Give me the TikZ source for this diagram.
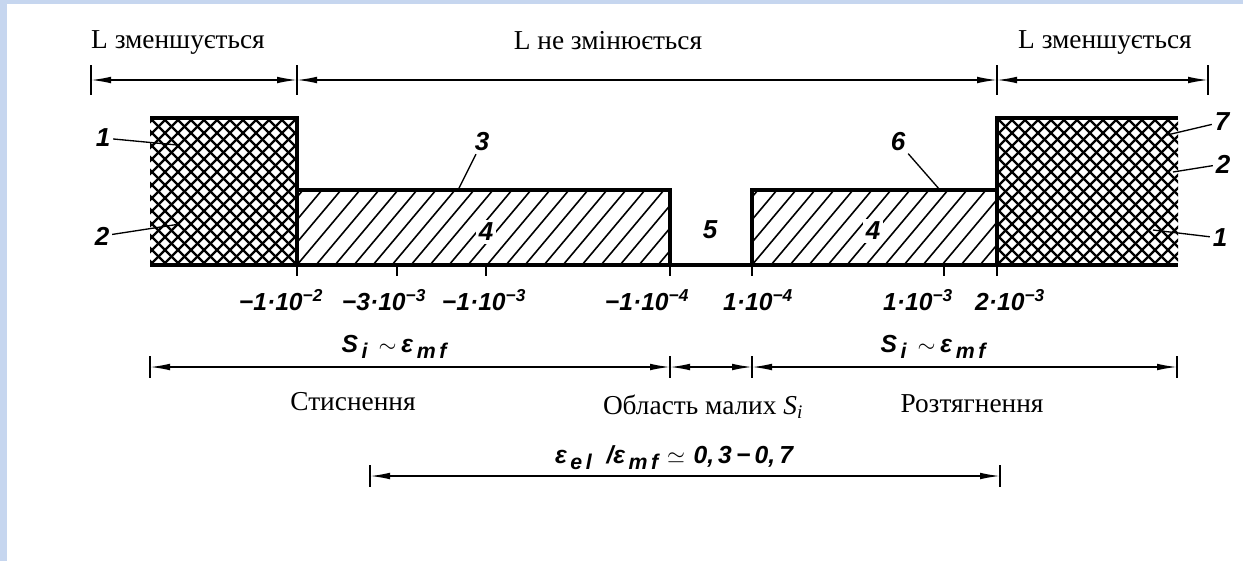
\documentclass[tikz,border=0pt]{standalone}
\usepackage{fontspec}
\setmainfont{Liberation Serif}
\newfontfamily\draftfont{Liberation Sans}
\usetikzlibrary{arrows.meta}
\definecolor{framebg}{RGB}{198,214,239}
\newcommand{\dsub}[1]{\raisebox{-0.5ex}{\fontsize{16}{16}\selectfont #1}}

\begin{document}
\begin{tikzpicture}[x=0.75pt,y=-0.75pt,
    outline/.style={line width=2.3pt},
    cross/.style={line width=1.7pt},
    hatch/.style={line width=1.2pt},
    dim/.style={line width=1.1pt,{Latex[length=15pt,width=5pt]}-{Latex[length=15pt,width=5pt]}},
    bar/.style={line width=1.1pt},
    leader/.style={line width=1pt},
    caption/.style={font=\fontsize{20.5}{22}\selectfont,inner sep=0pt,anchor=base},
    draft/.style={font=\draftfont\bfseries\itshape\fontsize{18.5}{20}\selectfont,inner sep=0pt,anchor=base},
    partno/.style={font=\draftfont\bfseries\itshape\fontsize{19.5}{20}\selectfont,inner sep=2pt}]
    \fill[white] (0,0) rectangle (1243,561);
    \fill[framebg] (0,0) rectangle (7,561);
    \fill[framebg] (7,0) rectangle (1243,4);
    \useasboundingbox (0,0) rectangle (1243,561);

    \begin{scope}
        \clip (150,118) rectangle (297,265);
        \foreach \t in {-169,-156,...,169} {
            \draw[cross] (150+\t,118) -- ++(147,147);
            \draw[cross] (150+\t,265) -- ++(147,-147);
        }
    \end{scope}
    \begin{scope}
        \clip (997,118) rectangle (1178,265);
        \foreach \t in {-169,-156,...,195} {
            \draw[cross] (997+\t,118) -- ++(147,147);
            \draw[cross] (997+\t,265) -- ++(147,-147);
        }
    \end{scope}
    \begin{scope}
        \clip (297,190) rectangle (670,265);
        \foreach \t in {-76,-57,...,380} \draw[hatch] (297+\t,265) -- ++(63,-75);
    \end{scope}
    \begin{scope}
        \clip (752,190) rectangle (997,265);
        \foreach \t in {-76,-57,...,250} \draw[hatch] (752+\t,265) -- ++(63,-75);
    \end{scope}

    \draw[outline] (150,118) -- (297,118) -- (297,265);
    \draw[outline] (297,190) -- (670,190) -- (670,265);
    \draw[outline] (752,265) -- (752,190) -- (997,190);
    \draw[outline] (997,265) -- (997,118) -- (1178,118);
    \draw[outline] (150,265) -- (1178,265);
    \foreach \x in {297,397,486,670,752,944,997} \draw[bar] (\x,265) -- (\x,276);

    \coordinate (a1) at (91,80);
    \coordinate (a2) at (297,80);
    \coordinate (a3) at (997,80);
    \coordinate (a4) at (1208,80);
    \coordinate (b1) at (150,367);
    \coordinate (b2) at (670,367);
    \coordinate (b3) at (752,367);
    \coordinate (b4) at (1177,367);
    \coordinate (c1) at (370,476);
    \coordinate (c2) at (1000,476);
    \foreach \p in {a1,a2,a3,a4} \draw[bar] (\p) ++(0,-15) -- ++(0,30);
    \foreach \p in {b1,b2,b3,b4} \draw[bar] (\p) ++(0,-11) -- ++(0,22);
    \foreach \p in {c1,c2} \draw[bar] (\p) ++(0,-11) -- ++(0,22);
    \draw[dim] (a1) -- (a2);
    \draw[dim] (a2) -- (a3);
    \draw[dim] (a3) -- (a4);
    \draw[dim] (b1) -- (b2);
    \draw[dim] (b2) -- (b3);
    \draw[dim] (b3) -- (b4);
    \draw[dim] (c1) -- (c2);

    \node[caption] (capLeft) at (178,48) {L зменшується};
    \node[caption] (capMid) at (608,49) {L не змінюється};
    \node[caption] (capRight) at (1105,48) {L зменшується};
    \node[caption] (capComp) at (353,410) {Стиснення};
    \node[caption] (capSmall) at (703,414) {Область малих \textit{S\textsubscript{i}}};
    \node[caption] (capTens) at (972,412) {Розтягнення};

    \node[draft] (tk1) at (281,310) {−1·10\textsuperscript{−2}};
    \node[draft] (tk2) at (384,310) {−3·10\textsuperscript{−3}};
    \node[draft] (tk3) at (484,310) {−1·10\textsuperscript{−3}};
    \node[draft] (tk4) at (647,310) {−1·10\textsuperscript{−4}};
    \node[draft] (tk5) at (758,310) {1·10\textsuperscript{−4}};
    \node[draft] (tk6) at (918,310) {1·10\textsuperscript{−3}};
    \node[draft] (tk7) at (1010,310) {2·10\textsuperscript{−3}};
    \node[draft] (siLeft) at (394,352) {S\dsub{\,i}\hspace{0.45em}\ensuremath{\sim}\hspace{0.2em}ε\dsub{\,m\,f}};
    \node[draft] (siRight) at (933,352) {S\dsub{\,i}\hspace{0.45em}\ensuremath{\sim}\hspace{0.2em}ε\dsub{\,m\,f}};
    \node[draft] (ratio) at (674,463) {ε\dsub{\,e\,l}\hspace{0.6em}/ε\dsub{\,m\,f}\hspace{0.35em}\ensuremath{\simeq}\hspace{0.35em}0,\,3\,−\,0,\,7};

    \node[partno] (n1L) at (103,138) {1};
    \node[partno] (n2L) at (102,236) {2};
    \node[partno] (n3) at (482,142) {3};
    \node[partno,fill=white] (n4L) at (486,232) {4};
    \node[partno] (n5) at (710,230) {5};
    \node[partno,fill=white] (n4R) at (873,231) {4};
    \node[partno] (n6) at (898,142) {6};
    \node[partno] (n7) at (1222,122) {7};
    \node[partno] (n2R) at (1223,164) {2};
    \node[partno] (n1R) at (1220,238) {1};
    \coordinate (p1L) at (177,145);
    \coordinate (p2L) at (180,224);
    \coordinate (p3) at (458,190);
    \coordinate (p6) at (940,190);
    \coordinate (p7) at (1167,135);
    \coordinate (p2R) at (1173,172);
    \coordinate (p1R) at (1153,230);
    \draw[leader] (n1L) -- (p1L);
    \draw[leader] (n2L) -- (p2L);
    \draw[leader] (n3) -- (p3);
    \draw[leader] (n6) -- (p6);
    \draw[leader] (n7) -- (p7);
    \draw[leader] (n2R) -- (p2R);
    \draw[leader] (n1R) -- (p1R);
\end{tikzpicture}
\end{document}
